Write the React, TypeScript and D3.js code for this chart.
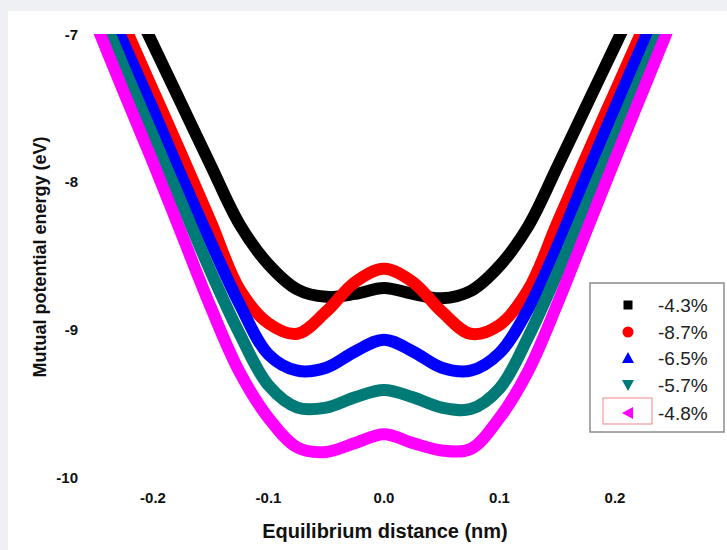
import React from 'react';
import * as d3 from 'd3';

// equilibrium distance (nm) sampled along x
const distance = [
  -0.25, -0.225, -0.2, -0.175, -0.15, -0.125, -0.1, -0.075, -0.05, -0.025, 0,
  0.025, 0.05, 0.075, 0.1, 0.125, 0.15, 0.175, 0.2, 0.225, 0.25,
];

// mutual potential energy (eV) for each strain
const strain43 = [-6.25, -6.66, -7.07, -7.48, -7.89, -8.29, -8.56, -8.73, -8.78, -8.76, -8.72, -8.76, -8.79, -8.74, -8.57, -8.3, -7.9, -7.49, -7.08, -6.67, -6.26];
const strain87 = [-6.5, -6.94, -7.38, -7.82, -8.27, -8.73, -8.96, -9.03, -8.88, -8.68, -8.59, -8.68, -8.88, -9.03, -8.97, -8.73, -8.28, -7.83, -7.39, -6.95, -6.51];
const strain65 = [-6.61, -7.07, -7.51, -7.97, -8.41, -8.83, -9.17, -9.28, -9.26, -9.15, -9.07, -9.15, -9.26, -9.28, -9.16, -8.86, -8.44, -7.96, -7.5, -7.05, -6.6];
const strain57 = [-6.76, -7.23, -7.69, -8.15, -8.61, -9.03, -9.38, -9.53, -9.53, -9.46, -9.41, -9.46, -9.53, -9.54, -9.4, -9.05, -8.62, -8.16, -7.7, -7.24, -6.78];
const strain48 = [-6.92, -7.4, -7.87, -8.36, -8.85, -9.29, -9.6, -9.8, -9.83, -9.77, -9.71, -9.77, -9.82, -9.81, -9.6, -9.28, -8.83, -8.34, -7.85, -7.37, -6.89];

const seriesNames = ['-4.3%', '-8.7%', '-6.5%', '-5.7%', '-4.8%'];
const seriesValues = [strain43, strain87, strain65, strain57, strain48];
const seriesColors = ['#000000', '#ff0000', '#0000ff', '#007a76', '#ff00ff'];

const xTicks = [-0.2, -0.1, 0, 0.1, 0.2];
const yTicks = [-7, -8, -9, -10];

const font = '"Liberation Sans", Arial, sans-serif';
// plain hyphen for negatives, like the original
const fmtX = (v: number) => d3.format('.1f')(v).replace('\u2212', '-');
const fmtY = (v: number) => d3.format('d')(v).replace('\u2212', '-');

const Marker = ({ i, x, y }: { i: number; x: number; y: number }) => {
  const c = seriesColors[i];
  if (i === 0) return <rect x={x - 4.5} y={y - 4.5} width={9} height={9} fill={c} />;
  if (i === 1) return <circle cx={x} cy={y} r={5.5} fill={c} />;
  if (i === 2) return <path d={`M${x},${y - 6}L${x + 6},${y + 5}L${x - 6},${y + 5}Z`} fill={c} />;
  if (i === 3) return <path d={`M${x - 6},${y - 5}L${x + 6},${y - 5}L${x},${y + 6}Z`} fill={c} />;
  return <path d={`M${x - 6},${y}L${x + 5},${y - 6}L${x + 5},${y + 6}Z`} fill={c} />;
};

export default function App() {
  const width = 727;
  const height = 550;

  const x = d3.scaleLinear().domain([-0.25, 0.25]).range([95.25, 672.75]);
  const y = d3.scaleLinear().domain([-10, -7]).range([477, 34]);

  const line = d3
    .line<number>()
    .x((d, i) => x(distance[i]))
    .y(d => y(d))
    .curve(d3.curveCatmullRom.alpha(0.5));

  const legendRows = [305, 332, 358, 385, 413];

  return (
    <div style={{ position: 'fixed', inset: 0, background: '#eef0f3' }}>
      <svg width={width} height={height} style={{ position: 'absolute', left: 0, top: 0 }}>
        <defs>
          <clipPath id="plot">
            <rect x={0} y={y(-7)} width={width} height={height} />
          </clipPath>
        </defs>
        <rect x={8} y={11} width={width - 8} height={height - 11} fill="#ffffff" />

        {/* curves */}
        <g clipPath="url(#plot)" fill="none" strokeWidth={12} strokeLinejoin="round">
          {seriesValues.map((vals, i) => (
            <path key={i} d={line(vals) || ''} stroke={seriesColors[i]} />
          ))}
        </g>

        {/* tick labels */}
        <g fontFamily={font} fontWeight="bold" fontSize={15} fill="#111111">
          {yTicks.map(t => (
            <text key={t} x={78} y={y(t)} textAnchor="end" dominantBaseline="central">
              {fmtY(t)}
            </text>
          ))}
          {xTicks.map(t => (
            <text key={t} x={x(t)} y={497} textAnchor="middle" dominantBaseline="central">
              {fmtX(t)}
            </text>
          ))}
        </g>

        {/* axis titles */}
        <text
          x={385}
          y={531}
          textAnchor="middle"
          dominantBaseline="central"
          fontFamily={font}
          fontWeight="bold"
          fontSize={20}
          fill="#111111"
        >
          Equilibrium distance (nm)
        </text>
        <text
          transform="translate(40,257) rotate(-90)"
          textAnchor="middle"
          dominantBaseline="central"
          fontFamily={font}
          fontWeight="bold"
          fontSize={18}
          fill="#111111"
        >
          Mutual potential energy (eV)
        </text>

        {/* legend */}
        <rect x={590} y={283} width={134} height={149} fill="#ffffff" stroke="#8c8c8c" strokeWidth={1.5} />
        <rect x={603} y={398} width={49} height={26} fill="none" stroke="#f29a9a" strokeWidth={1.2} />
        {seriesNames.map((name, i) => (
          <g key={name}>
            <Marker i={i} x={628} y={legendRows[i]} />
            <text
              x={658}
              y={legendRows[i]}
              dominantBaseline="central"
              fontFamily={font}
              fontSize={19}
              fill="#222222"
            >
              {name}
            </text>
          </g>
        ))}
      </svg>
    </div>
  );
}
